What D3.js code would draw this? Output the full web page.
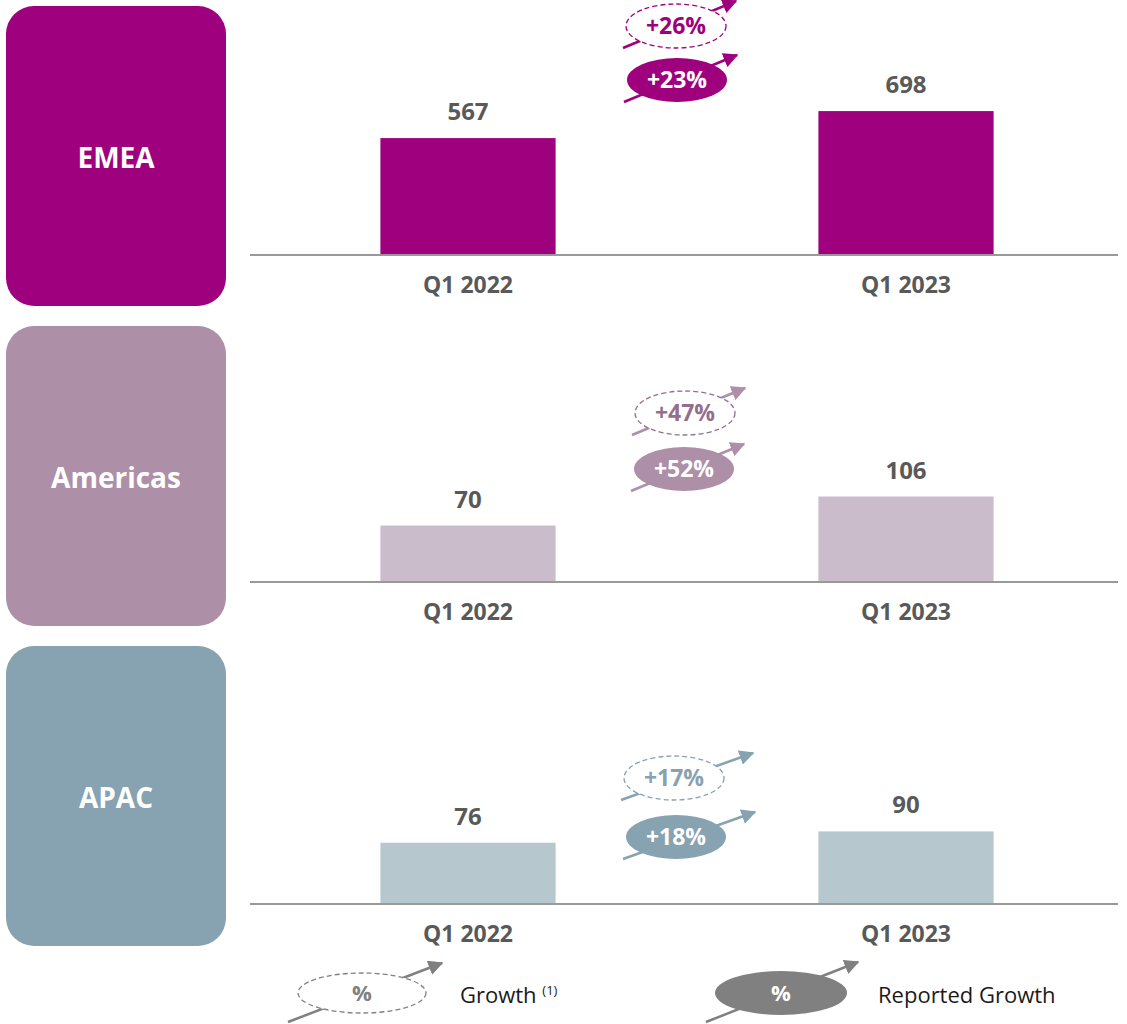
<!DOCTYPE html>
<html>
<head>
<meta charset="utf-8">
<script src="https://cdn.jsdelivr.net/npm/d3@7"></script>
<style>
  body { margin: 0; background: #fff; }
  svg text { font-family: "Open Sans", "Noto Sans", sans-serif; }
</style>
</head>
<body>
<div id="chart"></div>
<script>
var regions = ["EMEA", "Americas", "APAC"];
var periods = ["Q1 2022", "Q1 2023"];
var revenue = [
  [567, 698],
  [70, 106],
  [76, 90]
];
var growth = ["+26%", "+47%", "+17%"];
var reported = ["+23%", "+52%", "+18%"];

// layout per panel
var boxColor = ["#9e007e", "#ad8fa7", "#87a2b0"];
var barColor = ["#9e007e", "#cbbccb", "#b6c7ce"];
var dashText = ["#9e007e", "#946f8d", "#87a2b0"];
var baseY = [255, 582, 904];
var boxTop = [6, 326, 646];
var yMax = [970, 248, 248];
var bubbleY = [[26, 80], [413, 469], [778, 837]];
var bubbleX = [[676, 677], [685, 684], [674, 676]];
var arrowLen = [60, 60, 79];

var width = 1127, height = 1024;

var svg = d3.select("#chart").append("svg")
  .attr("width", width)
  .attr("height", height);

var defs = svg.append("defs");
function marker(id, color) {
  defs.append("marker")
    .attr("id", id)
    .attr("viewBox", "0 0 10 10")
    .attr("refX", 9).attr("refY", 5)
    .attr("markerWidth", 6).attr("markerHeight", 6)
    .attr("markerUnits", "strokeWidth")
    .attr("orient", "auto")
    .append("path")
    .attr("d", "M0,0 L10,5 L0,10 z")
    .attr("fill", color);
}
boxColor.forEach(function (c, i) { marker("arr" + i, c); });
marker("arrLeg", "#808080");

var x = d3.scaleBand()
  .domain(periods)
  .range([249, 1125])
  .paddingInner(0.6)
  .paddingOuter(0.3);

function bubble(g, cx, cy, rx, ry, color, dashed, label, mid, len, tcol) {
  g.append("line")
    .attr("x1", cx - 53).attr("y1", cy + 22)
    .attr("x2", cx + len).attr("y2", cy - 25)
    .attr("stroke", color)
    .attr("stroke-width", 2.5)
    .attr("marker-end", "url(#" + mid + ")");
  g.append("ellipse")
    .attr("cx", cx).attr("cy", cy)
    .attr("rx", rx).attr("ry", ry)
    .attr("fill", dashed ? "#fff" : color)
    .attr("stroke", dashed ? tcol : color)
    .attr("stroke-width", dashed ? 1.3 : 0)
    .attr("stroke-dasharray", dashed ? "5,3" : null);
  g.append("text")
    .attr("x", cx).attr("y", cy + 8)
    .attr("text-anchor", "middle")
    .attr("font-size", 23)
    .attr("font-weight", "bold")
    .attr("fill", dashed ? tcol : "#fff")
    .text(label);
}

regions.forEach(function (r, i) {
  var g = svg.append("g");
  var y = d3.scaleLinear().domain([0, yMax[i]]).range([baseY[i], baseY[i] - 200]);

  g.append("rect")
    .attr("x", 6).attr("y", boxTop[i])
    .attr("width", 220).attr("height", 300)
    .attr("rx", 28).attr("ry", 28)
    .attr("fill", boxColor[i]);
  g.append("text")
    .attr("x", 116).attr("y", boxTop[i] + 162)
    .attr("text-anchor", "middle")
    .attr("font-size", 28)
    .attr("font-weight", "bold")
    .attr("fill", "#fff")
    .text(r);

  g.selectAll(".bar")
    .data(periods)
    .enter().append("rect")
    .attr("x", function (d) { return x(d); })
    .attr("y", function (d, j) { return y(revenue[i][j]); })
    .attr("width", x.bandwidth())
    .attr("height", function (d, j) { return y(0) - y(revenue[i][j]); })
    .attr("fill", barColor[i]);

  g.selectAll(".val")
    .data(periods)
    .enter().append("text")
    .attr("x", function (d) { return x(d) + x.bandwidth() / 2; })
    .attr("y", function (d, j) { return y(revenue[i][j]) - 18; })
    .attr("text-anchor", "middle")
    .attr("font-size", 24)
    .attr("font-weight", "bold")
    .attr("fill", "#595959")
    .text(function (d, j) { return revenue[i][j]; });

  var axis = g.append("g")
    .attr("transform", "translate(0," + baseY[i] + ")")
    .call(d3.axisBottom(x).tickSize(0).tickPadding(22));
  axis.select(".domain")
    .attr("d", "M250,0H1118")
    .attr("stroke", "#999")
    .attr("stroke-width", 2);
  axis.selectAll(".tick text")
    .attr("font-size", 23)
    .attr("font-weight", "bold")
    .attr("fill", "#595959")
    .attr("font-family", "'Open Sans', sans-serif");

  bubble(g, bubbleX[i][0], bubbleY[i][0], 50, 22, boxColor[i], true, growth[i], "arr" + i, arrowLen[i], dashText[i]);
  bubble(g, bubbleX[i][1], bubbleY[i][1], 50, 22, boxColor[i], false, reported[i], "arr" + i, arrowLen[i], dashText[i]);
});

// legend
var leg = svg.append("g");
leg.append("line").attr("x1", 288).attr("y1", 1022).attr("x2", 442).attr("y2", 963)
  .attr("stroke", "#808080").attr("stroke-width", 2.5).attr("marker-end", "url(#arrLeg)");
leg.append("ellipse").attr("cx", 362).attr("cy", 993).attr("rx", 64).attr("ry", 20)
  .attr("fill", "#fff").attr("stroke", "#808080").attr("stroke-width", 1.3).attr("stroke-dasharray", "5,3");
leg.append("text").attr("x", 362).attr("y", 1001).attr("text-anchor", "middle")
  .attr("font-size", 22).attr("font-weight", "bold").attr("fill", "#808080").text("%");
var gt = leg.append("text").attr("x", 460).attr("y", 1003)
  .attr("font-size", 22).attr("fill", "#1a1a1a").text("Growth ");
gt.append("tspan").attr("font-size", 13).attr("dy", -8).text("(1)");

leg.append("line").attr("x1", 706).attr("y1", 1022).attr("x2", 858).attr("y2", 962)
  .attr("stroke", "#808080").attr("stroke-width", 2.5).attr("marker-end", "url(#arrLeg)");
leg.append("ellipse").attr("cx", 781).attr("cy", 993).attr("rx", 66).attr("ry", 22)
  .attr("fill", "#808080");
leg.append("text").attr("x", 781).attr("y", 1001).attr("text-anchor", "middle")
  .attr("font-size", 22).attr("font-weight", "bold").attr("fill", "#fff").text("%");
leg.append("text").attr("x", 878).attr("y", 1003)
  .attr("font-size", 22).attr("fill", "#1a1a1a").text("Reported Growth");
</script>
</body>
</html>
